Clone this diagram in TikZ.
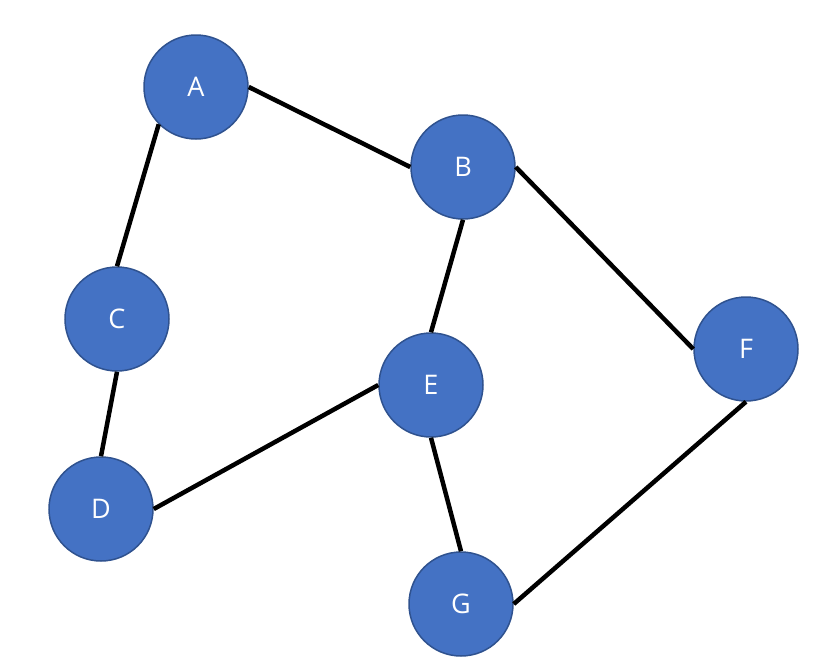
\documentclass[tikz,border=0pt]{standalone}
\usepackage{fontspec}
\setmainfont{Open Sans}
\definecolor{nodefill}{HTML}{4472C4}
\definecolor{nodeline}{HTML}{2F528F}
\begin{document}
\begin{tikzpicture}[x=1pt,y=-1pt,
  vert/.style={circle,fill=nodefill,draw=nodeline,line width=1.5pt,minimum size=104pt,inner sep=0pt,text=white,font=\fontsize{27}{31}\selectfont,text depth=-2pt},
  edge/.style={line width=4.5pt,black}]
\useasboundingbox (0,0) rectangle (838,667);
\node[vert] (A) at (196,87) {A};
\node[vert] (B) at (463,167) {B};
\node[vert] (C) at (117,319) {C};
\node[vert] (D) at (101,509) {D};
\node[vert] (E) at (431,385) {E};
\node[vert] (F) at (746,349) {F};
\node[vert] (G) at (461,604) {G};
\draw[edge] (A.east) -- (B.west);
\draw[edge] (A.south west) -- (C.north);
\draw[edge] (B.south) -- (E.north);
\draw[edge] (B.east) -- (F.west);
\draw[edge] (C.south) -- (D.north);
\draw[edge] (D.east) -- (E.west);
\draw[edge] (E.south) -- (G.north);
\draw[edge] (F.south) -- (G.east);
\end{tikzpicture}
\end{document}
